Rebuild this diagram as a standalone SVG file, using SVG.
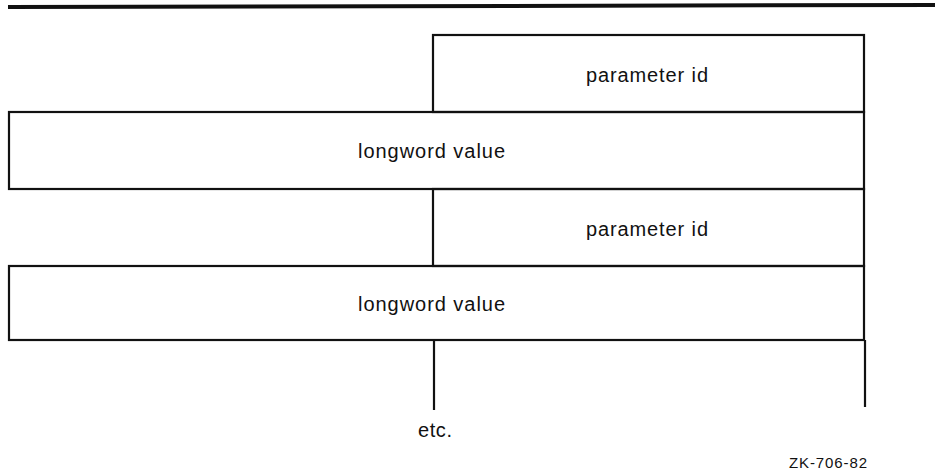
<svg xmlns="http://www.w3.org/2000/svg" width="939" height="471" viewBox="0 0 939 471">
<style>
.box{fill:none;stroke:#111;stroke-width:2.2}
.ln{stroke:#111;stroke-width:2.2;fill:none}
.t{font-family:"Liberation Sans",Arial,sans-serif;font-size:20px;fill:#111}
</style>
<rect width="939" height="471" fill="#fff"/>
<line x1="8" y1="7" x2="935" y2="5" stroke="#111" stroke-width="4"/>
<g id="param1">
<rect class="box" x="433" y="35" width="431" height="77"/>
<text class="t" x="586" y="82" textLength="122" lengthAdjust="spacing">parameter id</text>
</g>
<g id="value1">
<rect class="box" x="9" y="112" width="855" height="77"/>
<text class="t" x="358" y="158" textLength="147" lengthAdjust="spacing">longword value</text>
</g>
<g id="param2">
<rect class="box" x="433" y="189" width="431" height="77"/>
<text class="t" x="586" y="236" textLength="122" lengthAdjust="spacing">parameter id</text>
</g>
<g id="value2">
<rect class="box" x="9" y="266" width="855" height="74"/>
<text class="t" x="358" y="311" textLength="147" lengthAdjust="spacing">longword value</text>
</g>
<g id="connectors">
<line class="ln" x1="434" y1="340" x2="434" y2="410"/>
<line class="ln" x1="865" y1="340" x2="865" y2="407"/>
</g>
<g id="etc">
<text class="t" x="418" y="437" textLength="34" lengthAdjust="spacing">etc.</text>
</g>
<text class="t" x="789" y="468" style="font-size:15px" textLength="78" lengthAdjust="spacing">ZK-706-82</text>
</svg>
